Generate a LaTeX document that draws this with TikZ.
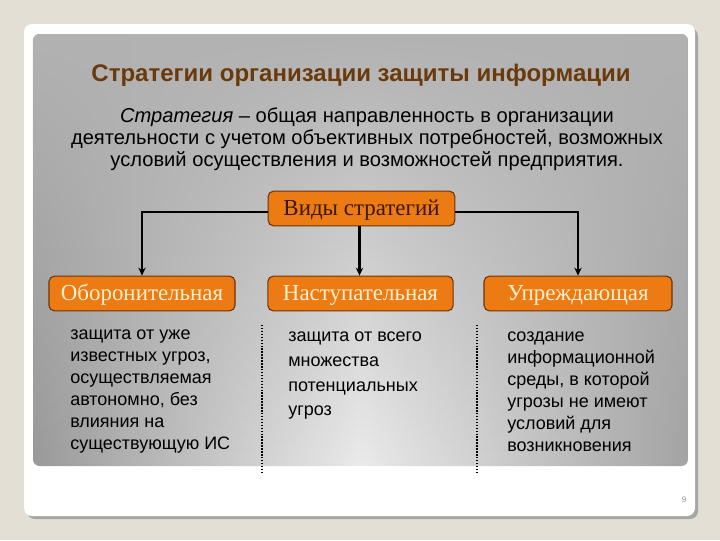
\documentclass[tikz,border=0pt]{standalone}
\usepackage{fontspec}
\setmainfont{Liberation Serif}
\setsansfont{Liberation Sans}
\usetikzlibrary{arrows.meta,fadings}
\definecolor{bgc}{HTML}{E4DFD5}
\definecolor{orangebox}{HTML}{EB7B12}
\definecolor{boxedge}{HTML}{6E3208}
\definecolor{titlec}{HTML}{6A3A0C}
\definecolor{cream}{HTML}{FFF0D2}
\definecolor{vidtext}{HTML}{3A1604}
\tikzset{
  stratbox/.style={draw=boxedge, fill=orangebox, rounded corners=4pt, line width=0.8pt,
    minimum height=26pt, inner sep=0pt, text height=12.5pt, text depth=2pt,
    font=\rmfamily\fontsize{17.2}{20}\selectfont, text=cream},
  conn/.style={line width=1.8pt, -{Stealth[length=6pt,width=5.5pt]}},
  dotline/.style={line width=1.6pt, dash pattern=on 1.1pt off 1.1pt},
  bodytext/.style={font=\sffamily\fontsize{13.5}{16.5}\selectfont, align=left, anchor=north west, inner sep=0pt}
}
\begin{document}
\begin{tikzpicture}[x=0.75pt,y=-0.75pt]
\fill[bgc] (0,0) rectangle (720,540);
\useasboundingbox (0,0) rectangle (720,540);
% card
\fill[rounded corners=6pt, black!35] (27,28) rectangle (698,519);
\fill[rounded corners=6pt, white] (24,24) rectangle (695,516);
% panel
\shade[rounded corners=5pt, left color=black!40, right color=black!36, middle color=black!8] (33,34) rectangle (688,466);
\fill[rounded corners=5pt, black!30, path fading=south] (33,34) rectangle (688,466);
% title
\node[font=\sffamily\bfseries\fontsize{18}{21}\selectfont, text=titlec] (title) at (361,75) {Стратегии организации защиты информации};
\node[font=\sffamily\fontsize{15.1}{16.5}\selectfont, align=center] (def) at (367,139)
  {\textit{Стратегия} – общая направленность в организации\\
   деятельности с учетом объективных потребностей, возможных\\
   условий осуществления и возможностей предприятия.};
% boxes
\node[stratbox, minimum width=140pt, text=vidtext] (vid) at (361.5,208.5) {Виды стратегий};
\node[stratbox, minimum width=139.5pt] (left) at (142,293.5) {Оборонительная};
\node[stratbox, minimum width=139pt] (mid) at (360.5,293.5) {Наступательная};
\node[stratbox, minimum width=141pt] (right) at (578,293.5) {Упреждающая};
% connectors
\draw[conn] ([yshift=-2.6pt]vid.west) -| (left.north);
\draw[conn] ([yshift=-2.6pt]vid.east) -| (right.north);
\draw[conn] ([xshift=-1.5pt]vid.south) -- ([xshift=-1.5pt]vid.south |- mid.north);
% dotted separators
\coordinate (d1t) at (262,325);
\coordinate (d1b) at (262,474);
\coordinate (d2t) at (477,325);
\coordinate (d2b) at (477,474);
\draw[dotline] (d1t) -- (d1b);
\draw[dotline] (d2t) -- (d2b);
% texts
\node[bodytext] (lt) at (70,330) {защита от уже\\известных угроз,\\осуществляемая\\автономно, без\\влияния на\\существующую ИС};
\node[bodytext, font=\sffamily\fontsize{13.5}{18.5}\selectfont] (mt) at (288,332) {защита от всего\\множества\\потенциальных\\угроз};
\node[bodytext] (rt) at (507,332) {создание\\информационной\\среды, в которой\\угрозы не имеют\\условий для\\возникновения};
\node[font=\sffamily\fontsize{6}{7}\selectfont, text=black!45] (pg) at (684,500) {9};
\end{tikzpicture}
\end{document}
